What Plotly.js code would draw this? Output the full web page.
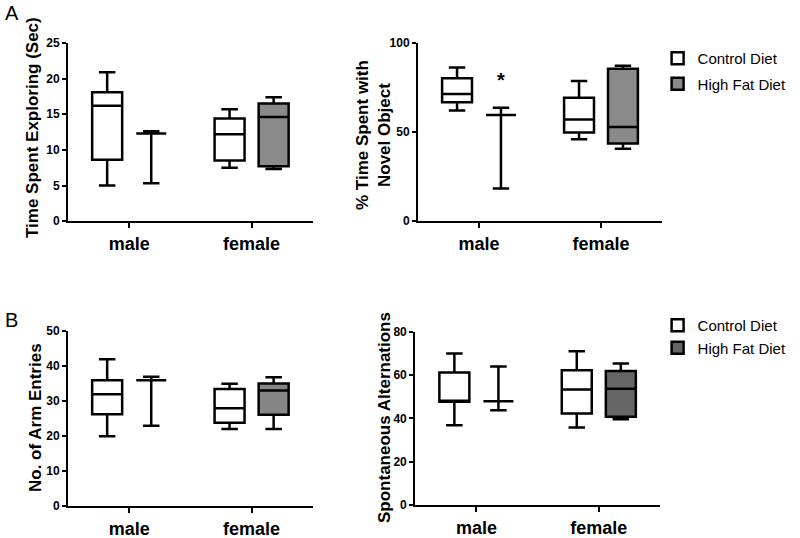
<!DOCTYPE html>
<html>
<head>
<meta charset="utf-8">
<script src="https://cdn.plot.ly/plotly-3.0.1.min.js"></script>
<style>html,body{margin:0;padding:0;background:#fff}#chart{width:800px;height:538px}</style>
</head>
<body>
<div id="chart"></div>
<script>
// ---- data ----
const groups = ['male', 'female'];
const dietNames = ['Control Diet', 'High Fat Diet'];
const yTitles = ['Time Spent Exploring (Sec)', '% Time Spent with<br>Novel Object',
                 'No. of Arm Entries', 'Spontaneous Alternations'];

// A-left: Time Spent Exploring (Sec)
const explCtrlMin = [5.0, 7.5];
const explCtrlQ1  = [8.6, 8.5];
const explCtrlMed = [16.2, 12.2];
const explCtrlQ3  = [18.1, 14.4];
const explCtrlMax = [20.9, 15.7];
const explHfdMin  = [5.3, 7.3];
const explHfdQ1   = [12.3, 7.7];
const explHfdMed  = [12.3, 14.6];
const explHfdQ3   = [12.3, 16.5];
const explHfdMax  = [12.6, 17.4];

// A-right: % Time Spent with Novel Object
const novCtrlMin = [62.1, 46.0];
const novCtrlQ1  = [66.7, 49.7];
const novCtrlMed = [71.4, 57.0];
const novCtrlQ3  = [80.2, 69.3];
const novCtrlMax = [86.2, 78.7];
const novHfdMin  = [18.3, 40.7];
const novHfdQ1   = [59.6, 43.6];
const novHfdMed  = [59.6, 52.9];
const novHfdQ3   = [59.6, 85.6];
const novHfdMax  = [63.7, 87.3];

// B-left: No. of Arm Entries
const armCtrlMin = [19.9, 22.0];
const armCtrlQ1  = [26.2, 23.8];
const armCtrlMed = [31.9, 27.9];
const armCtrlQ3  = [35.9, 33.4];
const armCtrlMax = [41.9, 34.9];
const armHfdMin  = [22.9, 22.0];
const armHfdQ1   = [35.9, 26.1];
const armHfdMed  = [35.9, 33.0];
const armHfdQ3   = [35.9, 35.0];
const armHfdMax  = [36.9, 36.8];

// B-right: Spontaneous Alternations
const altCtrlMin = [36.9, 35.8];
const altCtrlQ1  = [47.7, 42.3];
const altCtrlMed = [47.7, 53.4];
const altCtrlQ3  = [61.2, 62.3];
const altCtrlMax = [70.0, 71.1];
const altHfdMin  = [43.8, 39.7];
const altHfdQ1   = [48.0, 40.8];
const altHfdMed  = [48.0, 53.8];
const altHfdQ3   = [48.0, 62.0];
const altHfdMax  = [64.0, 65.4];

// ---- styling / layout constants ----
const FONT = 'Liberation Sans, Arial, sans-serif';
const LW = 2.5;
const BOX_OFFSET = [-0.18, 0.18];   // control left, high fat right of each group tick
const BOX_WIDTH = 0.245;
const groupPos = groups.map((g, i) => i);

function boxTrace(k, xa, ya, mn, q1, med, q3, mx, fill, legend, show) {
  return {
    type: 'box', name: dietNames[k],
    x: groupPos.map(p => p + BOX_OFFSET[k]), width: BOX_WIDTH,
    lowerfence: mn, q1: q1, median: med, q3: q3, upperfence: mx,
    xaxis: xa, yaxis: ya,
    fillcolor: fill, line: {color: '#000', width: LW},
    whiskerwidth: 0.55, boxpoints: false, hoverinfo: 'skip',
    legend: legend, showlegend: show, legendgroup: legend + k
  };
}

const traces = [
  boxTrace(0, 'x', 'y', explCtrlMin, explCtrlQ1, explCtrlMed, explCtrlQ3, explCtrlMax, '#ffffff', 'legend', true),
  boxTrace(1, 'x', 'y', explHfdMin, explHfdQ1, explHfdMed, explHfdQ3, explHfdMax, '#8a8a8a', 'legend', true),
  boxTrace(0, 'x2', 'y2', novCtrlMin, novCtrlQ1, novCtrlMed, novCtrlQ3, novCtrlMax, '#ffffff', 'legend', false),
  boxTrace(1, 'x2', 'y2', novHfdMin, novHfdQ1, novHfdMed, novHfdQ3, novHfdMax, '#8a8a8a', 'legend', false),
  boxTrace(0, 'x3', 'y3', armCtrlMin, armCtrlQ1, armCtrlMed, armCtrlQ3, armCtrlMax, '#ffffff', 'legend2', false),
  boxTrace(1, 'x3', 'y3', armHfdMin, armHfdQ1, armHfdMed, armHfdQ3, armHfdMax, '#868686', 'legend2', false),
  boxTrace(0, 'x4', 'y4', altCtrlMin, altCtrlQ1, altCtrlMed, altCtrlQ3, altCtrlMax, '#ffffff', 'legend2', true),
  boxTrace(1, 'x4', 'y4', altHfdMin, altHfdQ1, altHfdMed, altHfdQ3, altHfdMax, '#666666', 'legend2', true)
];

function xAxis(domain, anchor) {
  return {
    domain: domain, anchor: anchor, range: [-0.5, 1.5],
    tickmode: 'array', tickvals: groupPos, ticktext: groups,
    showline: true, linecolor: '#000', linewidth: 2, mirror: false,
    ticks: 'outside', ticklen: 5, tickwidth: 2, tickcolor: '#000',
    showgrid: false, zeroline: false, fixedrange: true,
    tickfont: {family: FONT, size: 18, color: '#000', weight: 'bold'}
  };
}
function yAxis(domain, anchor, range, dtick) {
  return {
    domain: domain, anchor: anchor, range: range, dtick: dtick, tick0: 0,
    showline: true, linecolor: '#000', linewidth: 2,
    ticks: 'outside', ticklen: 4, tickwidth: 2, tickcolor: '#000',
    showgrid: false, zeroline: false, fixedrange: true,
    tickfont: {family: FONT, size: 12, color: '#000', weight: 'bold'}
  };
}
function yTitle(text, xpx, ypx) {
  return {text: text, xref: 'paper', yref: 'paper', x: xpx / 800, y: 1 - ypx / 538,
          xanchor: 'center', yanchor: 'middle', textangle: -90, showarrow: false,
          font: {family: FONT, size: 17, color: '#000', weight: 'bold'}};
}

const layout = {
  width: 800, height: 538,
  margin: {l: 0, r: 0, t: 0, b: 0},
  paper_bgcolor: '#fff', plot_bgcolor: '#fff',
  boxmode: 'overlay',
  font: {family: FONT, color: '#000'},
  xaxis:  xAxis([0.085, 0.391], 'y'),
  yaxis:  yAxis([0.589, 0.920], 'x', [0, 25], 5),
  xaxis2: xAxis([0.5225, 0.8275], 'y2'),
  yaxis2: yAxis([0.589, 0.920], 'x2', [0, 100], 50),
  xaxis3: xAxis([0.085, 0.391], 'y3'),
  yaxis3: yAxis([0.0595, 0.3848], 'x3', [0, 50], 10),
  xaxis4: xAxis([0.519, 0.825], 'y4'),
  yaxis4: yAxis([0.0613, 0.383], 'x4', [0, 80], 20),
  legend: {
    x: 0.822, y: 1 - 42/538, xanchor: 'left', yanchor: 'top',
    font: {family: FONT, size: 15, color: '#000'}, tracegroupgap: 3,
    bgcolor: 'rgba(0,0,0,0)', borderwidth: 0
  },
  legend2: {
    x: 0.822, y: 1 - 309/538, xanchor: 'left', yanchor: 'top',
    font: {family: FONT, size: 15, color: '#000'}, tracegroupgap: 0,
    bgcolor: 'rgba(0,0,0,0)', borderwidth: 0
  },
  annotations: [
    yTitle(yTitles[0], 32, 128),
    yTitle(yTitles[1], 373, 135),
    yTitle(yTitles[2], 35, 418),
    yTitle(yTitles[3], 384, 418),
    {text: 'A', xref: 'paper', yref: 'paper', x: 12/800, y: 1 - 13/538, showarrow: false,
     xanchor: 'center', yanchor: 'middle', font: {family: FONT, size: 20, color: '#000'}},
    {text: 'B', xref: 'paper', yref: 'paper', x: 11/800, y: 1 - 320/538, showarrow: false,
     xanchor: 'center', yanchor: 'middle', font: {family: FONT, size: 20, color: '#000'}},
    {text: '*', xref: 'x2', yref: 'y2', x: BOX_OFFSET[1], y: 79, showarrow: false,
     xanchor: 'center', yanchor: 'middle', font: {family: FONT, size: 20, color: '#000', weight: 'bold'}}
  ]
};

Plotly.newPlot('chart', traces, layout, {staticPlot: true, displayModeBar: false});
</script>
</body>
</html>
